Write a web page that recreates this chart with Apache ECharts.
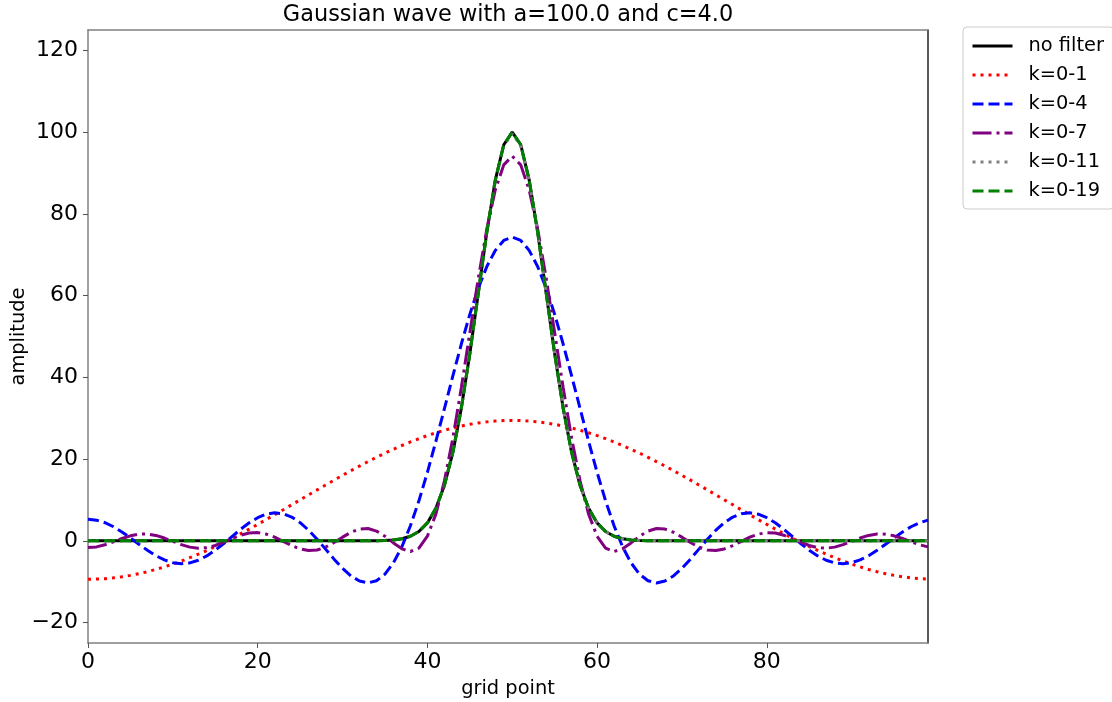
<html>
<head>
  <meta charset="utf-8">
  <style>
    html, body { margin: 0; padding: 0; background: #fff; }
    #container { width: 1112px; height: 702px; }
  </style>
</head>
<body>
<div id="container"></div>
<script type="text/javascript" src="https://fastly.jsdelivr.net/npm/echarts@6.0.0/dist/echarts.min.js"></script>
<script type="text/javascript">
  // grid points 0..99
  const gridPoints = [];
  for (let i = 0; i < 100; i++) gridPoints.push(i);

  const xTicks = [0, 20, 40, 60, 80];
  const yTicks = [-20, 0, 20, 40, 60, 80, 100, 120];

  const legendNames = ['no filter', 'k=0-1', 'k=0-4', 'k=0-7', 'k=0-11', 'k=0-19'];

  // values, one per grid point
  const noFilter = [
    0, 0, 0, 0, 0, 0, 0, 0, 0, 0, 0, 0, 0, 0, 0, 0, 0, 0, 0, 0,
    0, 0, 0, 0, 0, 0, 0, 0, 0, 0, 0, 0, 0, 0.01, 0.03, 0.09, 0.22, 0.51, 1.11, 2.28,
    4.39, 7.96, 13.53, 21.62, 32.47, 45.79, 60.65, 75.48, 88.25, 96.92, 100, 96.92, 88.25, 75.48, 60.65, 45.79, 32.47, 21.62, 13.53, 7.96,
    4.39, 2.28, 1.11, 0.51, 0.22, 0.09, 0.03, 0.01, 0, 0, 0, 0, 0, 0, 0, 0, 0, 0, 0, 0,
    0, 0, 0, 0, 0, 0, 0, 0, 0, 0, 0, 0, 0, 0, 0, 0, 0, 0, 0, 0
  ];

  const k01 = [
    -9.40, -9.36, -9.25, -9.06, -8.79, -8.45, -8.04, -7.55, -7.00, -6.38, -5.69, -4.94, -4.13, -3.27, -2.36, -1.39, -0.38, 0.67, 1.75, 2.87,
    4.02, 5.20, 6.39, 7.59, 8.81, 10.03, 11.25, 12.46, 13.67, 14.86, 16.03, 17.18, 18.30, 19.39, 20.44, 21.45, 22.41, 23.33, 24.19, 25.00,
    25.75, 26.44, 27.05, 27.61, 28.09, 28.51, 28.85, 29.11, 29.30, 29.42, 29.46, 29.42, 29.30, 29.11, 28.85, 28.51, 28.09, 27.61, 27.05, 26.44,
    25.75, 25.00, 24.19, 23.33, 22.41, 21.45, 20.44, 19.39, 18.30, 17.18, 16.03, 14.86, 13.67, 12.46, 11.25, 10.03, 8.81, 7.59, 6.39, 5.20,
    4.02, 2.87, 1.75, 0.67, -0.38, -1.39, -2.36, -3.27, -4.13, -4.94, -5.69, -6.38, -7.00, -7.55, -8.04, -8.45, -8.79, -9.06, -9.25, -9.36
  ];

  const k04 = [
    5.28, 5.06, 4.44, 3.45, 2.18, 0.71, -0.82, -2.31, -3.63, -4.67, -5.35, -5.61, -5.41, -4.76, -3.69, -2.29, -0.65, 1.11, 2.84, 4.41,
    5.67, 6.52, 6.86, 6.63, 5.82, 4.45, 2.60, 0.39, -2.03, -4.48, -6.74, -8.60, -9.85, -10.30, -9.77, -8.16, -5.38, -1.42, 3.68, 9.79,
    16.76, 24.35, 32.32, 40.36, 48.16, 55.42, 61.82, 67.11, 71.06, 73.50, 74.32, 73.50, 71.06, 67.11, 61.82, 55.42, 48.16, 40.36, 32.32, 24.35,
    16.76, 9.79, 3.68, -1.42, -5.38, -8.16, -9.77, -10.30, -9.85, -8.60, -6.74, -4.48, -2.03, 0.39, 2.60, 4.45, 5.82, 6.63, 6.86, 6.52,
    5.67, 4.41, 2.84, 1.11, -0.65, -2.29, -3.69, -4.76, -5.41, -5.61, -5.35, -4.67, -3.63, -2.31, -0.82, 0.71, 2.18, 3.45, 4.44, 5.06
  ];

  const k07 = [
    -1.66, -1.48, -0.96, -0.22, 0.57, 1.23, 1.63, 1.67, 1.32, 0.68, -0.13, -0.93, -1.54, -1.81, -1.67, -1.14, -0.34, 0.57, 1.38, 1.90,
    2.01, 1.65, 0.89, -0.12, -1.16, -1.98, -2.38, -2.24, -1.54, -0.41, 0.90, 2.10, 2.88, 3.01, 2.38, 1.11, -0.51, -1.96, -2.61, -1.78,
    1.13, 6.54, 14.61, 25.11, 37.51, 50.92, 64.24, 76.26, 85.84, 92.00, 94.13, 92.00, 85.84, 76.26, 64.24, 50.92, 37.51, 25.11, 14.61, 6.54,
    1.13, -1.78, -2.61, -1.96, -0.51, 1.11, 2.38, 3.01, 2.88, 2.10, 0.90, -0.41, -1.54, -2.24, -2.38, -1.98, -1.16, -0.12, 0.89, 1.65,
    2.01, 1.90, 1.38, 0.57, -0.34, -1.14, -1.67, -1.81, -1.54, -0.93, -0.13, 0.68, 1.32, 1.67, 1.63, 1.23, 0.57, -0.22, -0.96, -1.48
  ];

  const k011 = [
    0, 0, 0, 0, 0, 0, 0, 0, 0, 0, 0, 0, 0, 0, 0, 0, 0, 0, 0, 0,
    0, 0, 0, 0, 0, 0, 0, 0, 0, 0, 0, 0, 0, 0.01, 0.03, 0.09, 0.22, 0.51, 1.11, 2.28,
    4.39, 7.96, 13.53, 21.62, 32.47, 45.79, 60.65, 75.48, 88.25, 96.67, 99.63, 96.67, 88.25, 75.48, 60.65, 45.79, 32.47, 21.62, 13.53, 7.96,
    4.39, 2.28, 1.11, 0.51, 0.22, 0.09, 0.03, 0.01, 0, 0, 0, 0, 0, 0, 0, 0, 0, 0, 0, 0,
    0, 0, 0, 0, 0, 0, 0, 0, 0, 0, 0, 0, 0, 0, 0, 0, 0, 0, 0, 0
  ];

  const k019 = [
    0, 0, 0, 0, 0, 0, 0, 0, 0, 0, 0, 0, 0, 0, 0, 0, 0, 0, 0, 0,
    0, 0, 0, 0, 0, 0, 0, 0, 0, 0, 0, 0, 0, 0.01, 0.03, 0.09, 0.22, 0.51, 1.11, 2.28,
    4.39, 7.96, 13.53, 21.62, 32.47, 45.79, 60.65, 75.48, 88.25, 96.92, 100, 96.92, 88.25, 75.48, 60.65, 45.79, 32.47, 21.62, 13.53, 7.96,
    4.39, 2.28, 1.11, 0.51, 0.22, 0.09, 0.03, 0.01, 0, 0, 0, 0, 0, 0, 0, 0, 0, 0, 0, 0,
    0, 0, 0, 0, 0, 0, 0, 0, 0, 0, 0, 0, 0, 0, 0, 0, 0, 0, 0, 0
  ];

  const seriesValues = [noFilter, k01, k04, k07, k011, k019];
  const colors = ['#000000', '#ff0000', '#0000ff', '#800080', '#808080', '#008000'];
  const dashes = ['solid', [3, 5], [11, 5], [19, 5, 3, 5], [3, 5], [11, 5]];

  const font = 'DejaVu Sans';

  var dom = document.getElementById('container');
  var myChart = echarts.init(dom, null, { renderer: 'canvas' });

  let series = [];
  legendNames.forEach((name, i) => {
    series.push({
      name: name,
      type: 'line',
      symbol: 'none',
      data: gridPoints.map((x, j) => [x, seriesValues[i][j]]),
      lineStyle: { color: colors[i], width: 3, type: dashes[i], cap: 'butt' },
      itemStyle: { color: colors[i] },
      z: 2 + i
    });
  });

  const axisGray = '#808080';

  var option = {
    animation: false,
    backgroundColor: '#ffffff',
    textStyle: { fontFamily: font },
    title: {
      text: 'Gaussian wave with a=100.0 and c=4.0',
      left: 508,
      top: 4,
      padding: 0,
      textAlign: 'center',
      textStyle: { fontFamily: font, fontSize: 22.4, fontWeight: 'normal', color: '#000' }
    },
    legend: {
      data: legendNames,
      orient: 'vertical',
      left: 963,
      top: 27,
      padding: [9, 10, 8, 8],
      itemWidth: 40,
      itemHeight: 14,
      itemGap: 9,
      borderColor: '#cccccc',
      borderWidth: 1,
      borderRadius: 4,
      backgroundColor: '#ffffff',
      itemStyle: { opacity: 0 },
      lineStyle: { width: 3 },
      textStyle: { fontFamily: font, fontSize: 19.4, lineHeight: 20, color: '#000', padding: [0, 0, 0, 11] }
    },
    grid: { left: 88, top: 30, width: 840, height: 613, containLabel: false, outerBoundsMode: 'none' },
    xAxis: [{
      type: 'value',
      min: 0,
      max: 99,
      name: 'grid point',
      nameLocation: 'middle',
      nameGap: 36,
      nameTextStyle: { fontFamily: font, fontSize: 19.4, color: '#000' },
      axisLine: { show: true, onZero: false, lineStyle: { color: axisGray, width: 1.5 } },
      axisTick: { show: true, inside: false, length: 5, customValues: xTicks, lineStyle: { color: '#555' } },
      axisLabel: { customValues: xTicks, margin: 8, fontFamily: font, fontSize: 22, color: '#000' },
      splitLine: { show: false }
    }, {
      type: 'value',
      position: 'top',
      min: 0,
      max: 99,
      axisLine: { show: true, onZero: false, lineStyle: { color: axisGray, width: 1.5 } },
      axisTick: { show: false },
      axisLabel: { show: false },
      splitLine: { show: false }
    }],
    yAxis: [{
      type: 'value',
      min: -25,
      max: 125,
      name: 'amplitude',
      nameLocation: 'middle',
      nameGap: 60,
      nameMoveOverlap: false,
      nameTextStyle: { fontFamily: font, fontSize: 19.4, color: '#000' },
      axisLine: { show: true, onZero: false, lineStyle: { color: axisGray, width: 1.5 } },
      axisTick: { show: true, inside: false, length: 5, customValues: yTicks, lineStyle: { color: '#555' } },
      axisLabel: {
        customValues: yTicks,
        margin: 10,
        fontFamily: font,
        fontSize: 22,
        color: '#000',
        formatter: (v) => (v < 0 ? '\u2212' + Math.abs(v) : String(v))
      },
      splitLine: { show: false }
    }, {
      type: 'value',
      position: 'right',
      min: -25,
      max: 125,
      axisLine: { show: true, onZero: false, lineStyle: { color: '#222', width: 1.5 } },
      axisTick: { show: false },
      axisLabel: { show: false },
      splitLine: { show: false }
    }],
    series: series
  };

  myChart.setOption(option);
  window.addEventListener('resize', myChart.resize);
</script>
</body>
</html>
